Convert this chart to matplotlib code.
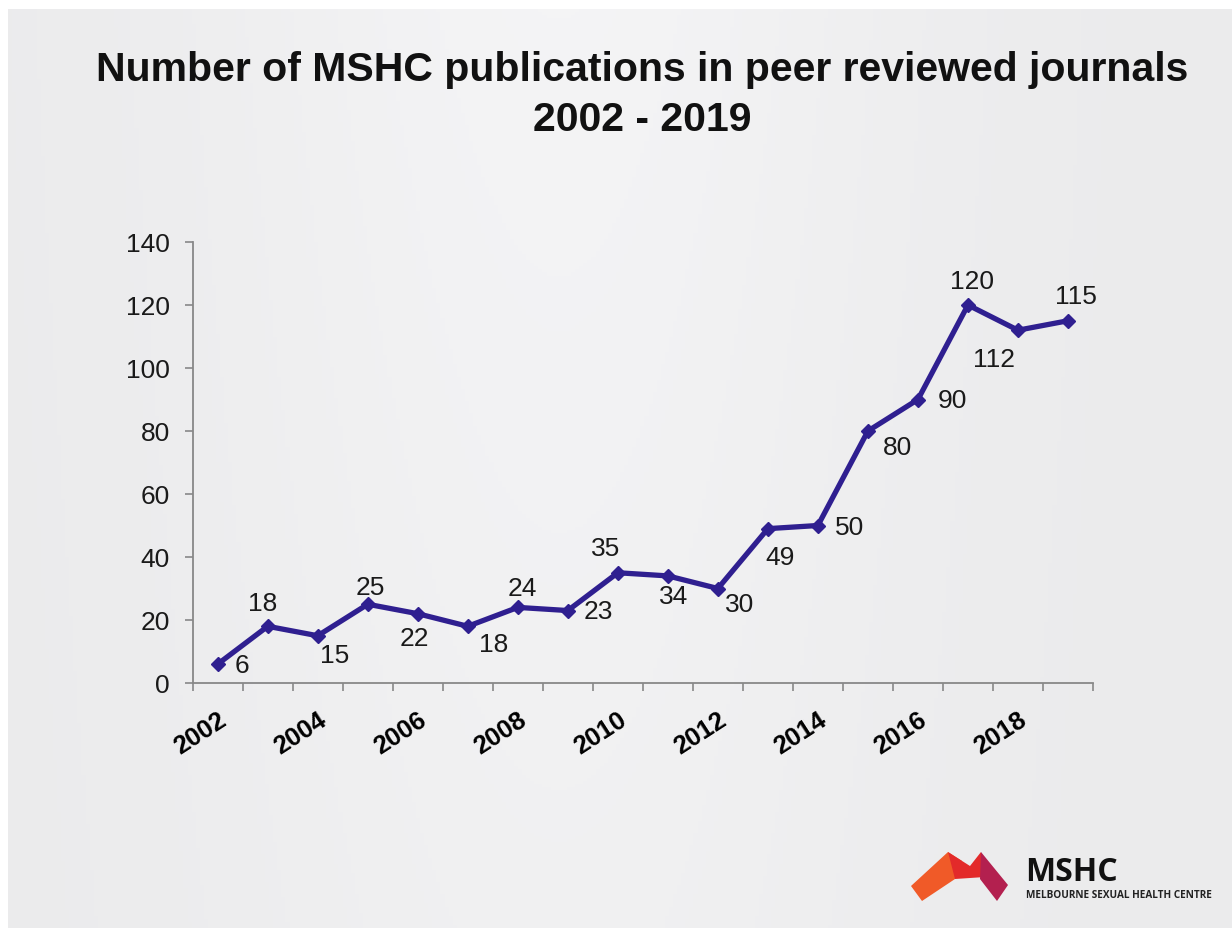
import matplotlib
matplotlib.use("Agg")
import matplotlib.pyplot as plt
import numpy as np
from matplotlib.patches import Polygon

years = list(range(2002, 2020))
publications = [6, 18, 15, 25, 22, 18, 24, 23, 35, 34, 30, 49, 50, 80, 90, 120, 112, 115]
tick_labels = [str(y) if y % 2 == 0 else "" for y in years]
yticks = [0, 20, 40, 60, 80, 100, 120, 140]

# label offsets in pixels (dx, dy) relative to each point (style only)
label_offsets = [(24, -1), (-5, 23), (17, -19), (3, 17), (-3, -24), (26, -18),
                 (5, 19), (30, 0), (-12, 25), (6, -20), (22, -16), (12, -28),
                 (32, -2), (30, -16), (34, -1), (4, 24), (-24, -29), (8, 25)]

W, H = 1232, 929
fig = plt.figure(figsize=(W / 100, H / 100), dpi=100)
fig.patch.set_facecolor("white")

FONT = "Liberation Sans"
plt.rcParams["font.family"] = [FONT, "DejaVu Sans"]

# background gradient
bg = fig.add_axes([8 / W, 0, 1 - 8 / W, 1 - 10 / H], zorder=-5)
gx = np.linspace(0, 1, 300)
gy = np.linspace(0, 1, 300)
GX, GY = np.meshgrid(gx, gy)
val = 0.922 + 0.035 * np.exp(-((GX - 0.45) ** 2) / 0.08) * (1 - 0.4 * GY)
bg.imshow(np.dstack([val, val, val * 1.005]).clip(0, 1), aspect="auto", extent=[0, 1, 0, 1])
bg.axis("off")

ax = fig.add_axes([192.7 / W, 1 - 684 / H, (1093 - 192.7) / W, (684 - 243) / H])
ax.patch.set_alpha(0)
x = np.arange(len(years))
ax.plot(x, publications, color="#2F1F90", lw=3.8, marker="D", markersize=7,
        markerfacecolor="#2F1F90", markeredgecolor="#2F1F90", solid_joinstyle="miter")

for xi, v, (dx, dy) in zip(x, publications, label_offsets):
    ax.annotate(str(v), (xi, v), xytext=(dx, dy), textcoords="offset pixels",
                ha="center", va="center", fontsize=19, color="#1a1a1a")

ax.set_xlim(-0.5, len(years) - 0.5)
ax.set_ylim(0, 140)
ax.set_yticks(yticks)
ax.set_yticklabels([str(t) for t in yticks], fontsize=19, color="#1a1a1a")
ax.set_xticks(np.arange(len(years) + 1) - 0.5)
ax.set_xticklabels([])
ax.set_xticks(x, minor=True)
ax.set_xticklabels(tick_labels, minor=True, rotation=33, ha="right", va="top",
                   rotation_mode="anchor", fontsize=18.5, fontweight="bold", color="black")
ax.tick_params(axis="x", which="minor", length=0, pad=17)
ax.tick_params(axis="x", which="major", length=6, width=1.2, color="#888888")
ax.tick_params(axis="y", length=5.5, width=1.2, color="#888888", pad=11)
for s in ["top", "right"]:
    ax.spines[s].set_visible(False)
for s in ["left", "bottom"]:
    ax.spines[s].set_color("#888888")
    ax.spines[s].set_linewidth(1.3)

fig.text(642 / W, 1 - 70 / H, "Number of MSHC publications in peer reviewed journals",
         ha="center", va="center", fontsize=29.5, fontweight="bold", color="#111111")
fig.text(642 / W, 1 - 120 / H, "2002 - 2019", ha="center", va="center",
         fontsize=29.5, fontweight="bold", color="#111111")

# logo
def P(pts):
    return [(px / W, 1 - py / H) for px, py in pts]

fig.add_artist(Polygon(P([(911, 887), (948, 853), (962, 862), (955, 880), (922, 902)]),
                       closed=True, transform=fig.transFigure, color="#F05A28", lw=0))
fig.add_artist(Polygon(P([(948, 853), (970, 867), (981, 853), (985, 878), (955, 880)]),
                       closed=True, transform=fig.transFigure, color="#E32A2A", lw=0))
fig.add_artist(Polygon(P([(981, 853), (1008, 886), (997, 902), (980, 880)]),
                       closed=True, transform=fig.transFigure, color="#B3204F", lw=0))
fig.text(1025 / W, 1 - 873 / H, "MSHC", ha="left", va="center", fontsize=23,
         fontweight="bold", color="#111111", family="Open Sans")
fig.text(1026 / W, 1 - 896 / H, "MELBOURNE SEXUAL HEALTH CENTRE", ha="left", va="center",
         fontsize=7.2, fontweight="bold", color="#222222", family="Open Sans")

fig.savefig("out.png", dpi=100, facecolor=fig.get_facecolor())
